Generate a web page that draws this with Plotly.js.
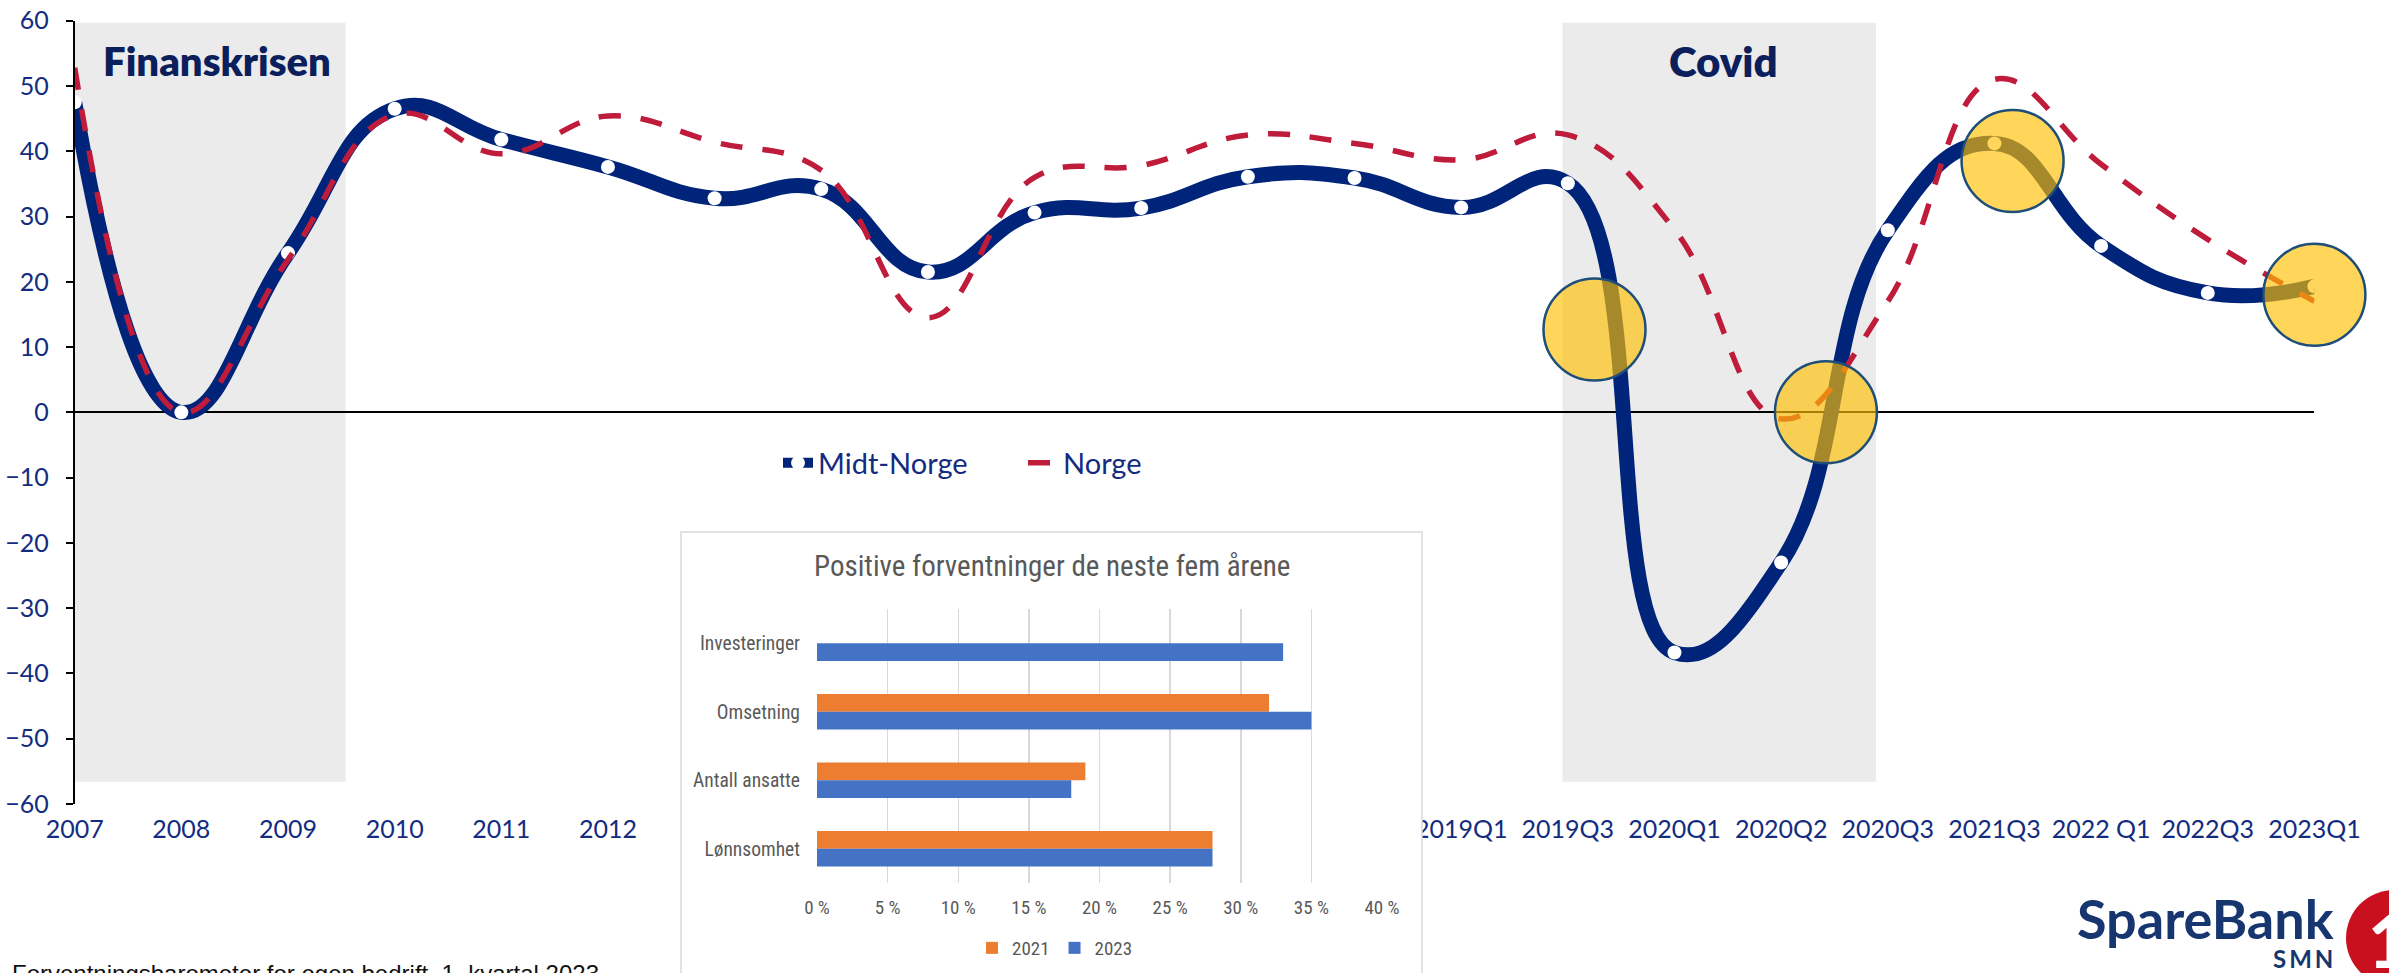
<!DOCTYPE html>
<html>
<head>
<meta charset="utf-8">
<script src="https://cdn.plot.ly/plotly-3.0.1.min.js"></script>
<style>html,body{margin:0;padding:0;background:#fff;}#chart{width:2389px;height:973px;}</style>
</head>
<body>
<div id="chart"></div>
<script>
// ---- main chart data ----
const periodLabels = ['2007','2008','2009','2010','2011','2012','2013','2014','2015','2016','2017','2018','2018Q3','2019Q1','2019Q3','2020Q1','2020Q2','2020Q3','2021Q3','2022 Q1','2022Q3','2023Q1'];
const midtNorge = [47.5, 0, 24.4, 46.5, 41.8, 37.6, 32.8, 34.2, 21.5, 30.6, 31.3, 36.1, 35.9, 31.4, 35.1, -36.8, -23.0, 27.9, 41.2, 25.5, 18.3, 19.3];
const norge = [52.8, 0, 23.4, 45.6, 39.6, 45.4, 41.4, 37.1, 14.5, 36.0, 37.8, 42.5, 41.2, 38.7, 42.5, 28.0, -1.0, 17.0, 51.0, 38.0, 26.5, 17.0];
const yTicks = [-60, -50, -40, -30, -20, -10, 0, 10, 20, 30, 40, 50, 60];

// crisis periods (category-index positions)
const crisisNames = ['Finanskrisen', 'Covid'];
const crisisStart = [0, 13.95];
const crisisEnd = [2.54, 16.89];
const crisisLabelX = [1.33, 15.46];

// highlighted spots
const highlightX = [14.25, 16.42, 18.17, 21.0];
const highlightY = [12.7, 0, 38.5, 18.0];

// ---- inset bar chart data ----
const barCategories = ['Investeringer', 'Omsetning', 'Antall ansatte', 'Lønnsomhet'];
const share2021 = [null, 32, 19, 28];
const share2023 = [33, 35, 18, 28];
const pctTicks = [0, 5, 10, 15, 20, 25, 30, 35, 40];
const pctTickText = pctTicks.map(v => v + ' %');

const idx = periodLabels.map((_, i) => i);
const W = 2389, H = 973;
const px = v => v / W, py = v => 1 - v / H;

const NAVY = '#00247A';
const LABEL = '#132C7F';
const RED = '#BF1B3A';
const GRAY = '#595959';
const NARROW = 'Liberation Sans Narrow, Roboto Condensed, Open Sans, sans-serif';

const traces = [
  {
    x: idx, y: midtNorge, name: 'Midt-Norge', type: 'scatter', mode: 'lines+markers',
    line: {color: NAVY, width: 15, shape: 'spline', smoothing: 1.3},
    marker: {color: '#ffffff', size: 14, line: {width: 0}},
    hoverinfo: 'skip'
  },
  {
    x: idx, y: norge, name: 'Norge', type: 'scatter', mode: 'lines',
    line: {color: RED, width: 5.5, shape: 'spline', smoothing: 1.2, dash: '22px,20px'},
    hoverinfo: 'skip'
  },
  {
    x: highlightX, y: highlightY, type: 'scatter', mode: 'markers', showlegend: false,
    cliponaxis: false,
    marker: {size: 102, color: 'rgba(255,192,0,0.65)', line: {color: '#1F4E79', width: 2.5}},
    hoverinfo: 'skip'
  },
  // inset frame subplot (covers the hidden tick labels)
  {x: [], y: [], xaxis: 'x2', yaxis: 'y2', type: 'scatter', showlegend: false, hoverinfo: 'skip'},
  {
    x: share2021, y: barCategories, name: '2021', type: 'bar', orientation: 'h',
    xaxis: 'x3', yaxis: 'y3', marker: {color: '#ED7D31'}, legend: 'legend2', hoverinfo: 'skip'
  },
  {
    x: share2023, y: barCategories, name: '2023', type: 'bar', orientation: 'h',
    xaxis: 'x3', yaxis: 'y3', marker: {color: '#4472C4'}, legend: 'legend2', hoverinfo: 'skip'
  }
];

const shapes = crisisNames.map((n, i) => ({
  type: 'rect', xref: 'x', yref: 'y', x0: crisisStart[i], x1: crisisEnd[i], y0: -56.6, y1: 59.7,
  fillcolor: '#EBEBEB', line: {width: 0}, layer: 'below'
}));
// inset frame border
shapes.push({type: 'rect', xref: 'paper', yref: 'paper', x0: px(681), x1: px(1422), y0: -0.05, y1: py(532),
  line: {color: '#D9D9D9', width: 1.5}, fillcolor: 'rgba(0,0,0,0)', layer: 'above'});
// logo circle
shapes.push({type: 'circle', xref: 'paper', yref: 'paper', x0: px(2346), x1: px(2442), y0: py(986), y1: py(890),
  fillcolor: '#C8101E', line: {width: 0}, layer: 'above'});

const annotations = crisisNames.map((n, i) => ({
  text: n, x: crisisLabelX[i], y: 53.9, xref: 'x', yref: 'y', showarrow: false,
  xanchor: 'center', yanchor: 'middle',
  font: {family: 'Lato', size: i === 1 ? 42 : 40, color: '#0B1F5C', weight: 800}
}));
annotations.push({
  text: 'Positive forventninger de neste fem årene', xref: 'paper', yref: 'paper',
  x: px(1052), y: py(566), showarrow: false, xanchor: 'center', yanchor: 'middle',
  font: {family: NARROW, size: 29, color: GRAY}
});
annotations.push({
  text: 'Forventningsbarometer for egen bedrift, 1. kvartal 2023', xref: 'paper', yref: 'paper',
  x: px(10), y: py(958), showarrow: false, xanchor: 'left', yanchor: 'top',
  font: {family: 'Liberation Sans, Arial, sans-serif', size: 24, color: '#111'}
});
annotations.push({
  text: 'SpareBank', xref: 'paper', yref: 'paper', x: px(2336), y: py(918), showarrow: false,
  xanchor: 'right', yanchor: 'middle', font: {family: 'Lato', size: 54, color: '#17366F', weight: 700}
});
annotations.push({
  text: 'S\u2009M\u2009N', xref: 'paper', yref: 'paper', x: px(2335), y: py(958), showarrow: false,
  xanchor: 'right', yanchor: 'middle', font: {family: 'Lato', size: 24, color: '#17366F', weight: 700}
});
annotations.push({
  text: '1', xref: 'paper', yref: 'paper', x: px(2366), y: py(940), showarrow: false,
  xanchor: 'left', yanchor: 'middle', font: {family: 'Lato', size: 72, color: '#ffffff', weight: 900}
});

const layout = {
  width: W, height: H,
  margin: {l: 0, r: 0, t: 0, b: 0},
  paper_bgcolor: '#ffffff', plot_bgcolor: '#ffffff',
  font: {family: 'Lato', color: LABEL},
  showlegend: true,
  barmode: 'group', bargap: 0.48, bargroupgap: 0,
  xaxis: {
    domain: [px(74.7), px(2314.4)], range: [0, 21], anchor: 'y',
    tickmode: 'array', tickvals: idx, ticktext: periodLabels,
    showgrid: false, zeroline: false, showline: false, ticks: '',
    tickfont: {family: 'Lato', size: 25, color: LABEL}, ticklabelstandoff: 8
  },
  yaxis: {
    domain: [py(804), py(20.7)], range: [-60, 60], anchor: 'x',
    tickmode: 'array', tickvals: yTicks,
    showgrid: false, zeroline: true, zerolinecolor: '#000', zerolinewidth: 2,
    showline: true, linecolor: '#000', linewidth: 2, ticks: 'outside', ticklen: 7, tickwidth: 2, tickcolor: '#000',
    tickfont: {family: 'Lato', size: 25, color: LABEL}, ticklabelstandoff: 12
  },
  xaxis2: {domain: [px(681), px(1422)], anchor: 'y2', visible: false, range: [0, 1]},
  yaxis2: {domain: [0, py(532)], anchor: 'x2', visible: false, range: [0, 1]},
  xaxis3: {
    domain: [px(817), px(1382)], anchor: 'y3', range: [0, 40], tickmode: 'array', tickvals: pctTicks,
    ticktext: pctTickText, showgrid: true, gridcolor: '#D9D9D9', gridwidth: 1.5, zeroline: false, showline: false, ticks: '',
    tickfont: {family: NARROW, size: 19, color: GRAY}, ticklabelstandoff: 11
  },
  yaxis3: {
    domain: [py(883), py(609)], anchor: 'x3', type: 'category', categoryorder: 'array', categoryarray: barCategories,
    autorange: 'reversed', showgrid: false, zeroline: false, showline: false, ticks: '',
    tickfont: {family: NARROW, size: 19.5, color: GRAY}, ticklabelstandoff: 16
  },
  legend: {
    orientation: 'h', x: px(778), y: py(463), xanchor: 'left', yanchor: 'middle',
    bgcolor: 'rgba(0,0,0,0)', font: {family: 'Lato', size: 29, color: LABEL}, traceorder: 'normal',
    entrywidth: 200, entrywidthmode: 'pixels'
  },
  legend2: {
    orientation: 'h', x: px(1055), y: py(948), xanchor: 'center', yanchor: 'middle',
    bgcolor: 'rgba(0,0,0,0)', font: {family: NARROW, size: 19, color: GRAY},
    itemwidth: 30
  },
  shapes: shapes,
  annotations: annotations
};

Plotly.newPlot('chart', traces, layout, {displayModeBar: false, staticPlot: true});
</script>
</body>
</html>
